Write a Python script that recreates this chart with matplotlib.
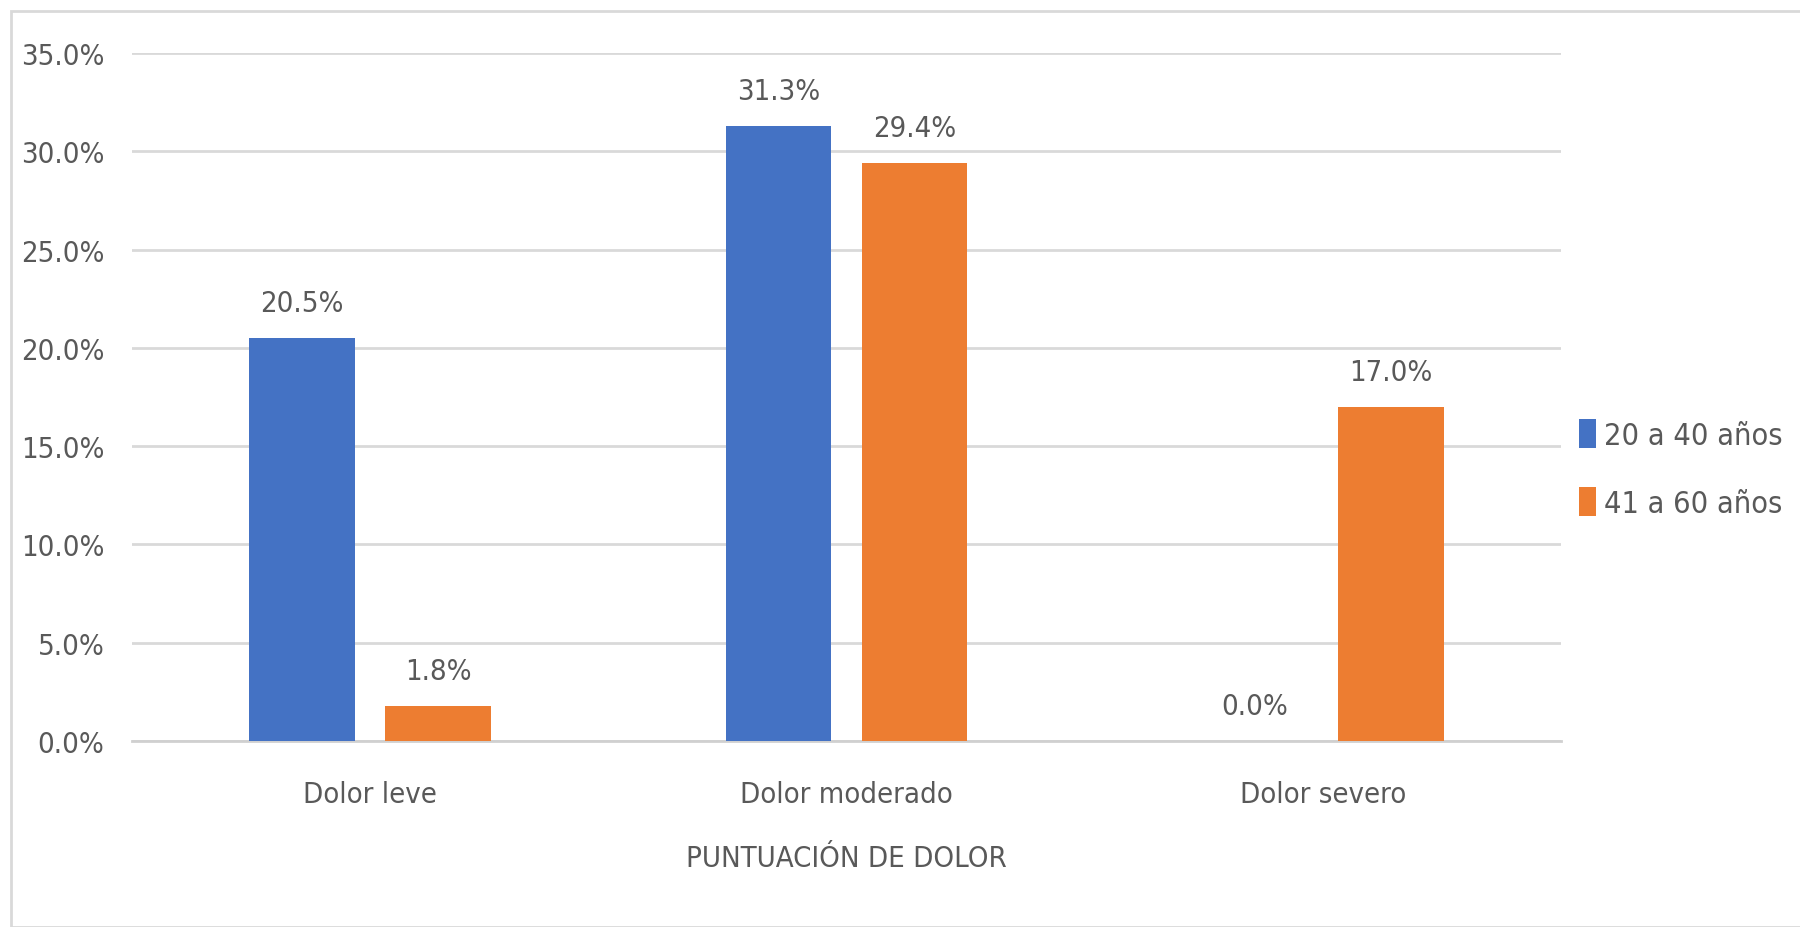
import matplotlib.pyplot as plt
import numpy as np
from matplotlib.patches import Rectangle

plt.rcParams['font.family'] = ['DejaVu Sans']
plt.rcParams['font.stretch'] = 'condensed'

# Data
categories = ['Dolor leve', 'Dolor moderado', 'Dolor severo']
series_names = ['20 a 40 años', '41 a 60 años']
young = [20.5, 31.3, 0.0]
older = [1.8, 29.4, 17.0]
colors = ['#4472C4', '#ED7D31']
text_color = '#595959'

fig = plt.figure(figsize=(18, 9.28), dpi=100)
ax = fig.add_axes([132 / 1800, 1 - 742 / 928, (1561 - 132) / 1800, (742 - 54) / 928])

# Light frame round the whole chart
fig.patches.append(Rectangle((11 / 1800, 0), 1, 1 - 12 / 928,
                             transform=fig.transFigure, fill=False,
                             edgecolor='#d9d9d9', linewidth=2))

x = np.arange(len(categories))
width = 0.222
offset = 0.143

for vals, name, col, sign in [(young, series_names[0], colors[0], -1),
                              (older, series_names[1], colors[1], 1)]:
    bars = ax.bar(x + sign * offset, vals, width=width, color=col, label=name, zorder=3)
    for bar, v in zip(bars, vals):
        ax.annotate(f'{v:.1f}%',
                    xy=(bar.get_x() + bar.get_width() / 2, bar.get_height()),
                    xytext=(0, 15), textcoords='offset points',
                    ha='center', va='bottom', fontsize=21, color=text_color)

ax.set_xlim(-0.5, 2.5)
ax.set_ylim(0, 35)
ax.set_yticks(np.arange(0, 36, 5))
ax.set_yticklabels([f'{t:.1f}%' for t in np.arange(0, 36, 5)])
ax.set_xticks(x)
ax.set_xticklabels(categories)
ax.tick_params(axis='both', length=0, labelsize=21, labelcolor=text_color)
ax.tick_params(axis='y', pad=20)
ax.tick_params(axis='x', pad=28)
ax.grid(axis='y', color='#d9d9d9', linewidth=2, zorder=0)
for s in ['top', 'right', 'left']:
    ax.spines[s].set_visible(False)
ax.spines['bottom'].set_color('#d0d0d0')
ax.spines['bottom'].set_linewidth(2)

ax.set_xlabel('PUNTUACIÓN DE DOLOR', fontsize=21, color=text_color, labelpad=26)

ax.legend(loc='center left', bbox_to_anchor=(1.0, 0.396), frameon=False,
          fontsize=22, labelcolor=text_color, handlelength=0.55, handleheight=1.1,
          handletextpad=0.25, labelspacing=1.2, borderaxespad=0.2)

fig.savefig('out.png', dpi=100)
